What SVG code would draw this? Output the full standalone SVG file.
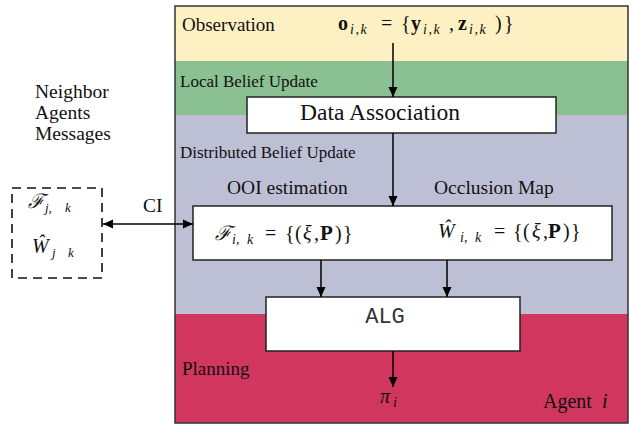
<svg xmlns="http://www.w3.org/2000/svg" width="631" height="424" viewBox="0 0 631 424">
<defs>
<marker id="ah" markerUnits="userSpaceOnUse" markerWidth="10" markerHeight="10" refX="10" refY="5" orient="auto">
<path d="M0,0.5 L10,5 L0,9.5 z" fill="#000"/>
</marker>
<marker id="as" markerUnits="userSpaceOnUse" markerWidth="10" markerHeight="10" refX="0" refY="5" orient="auto">
<path d="M10,0.5 L0,5 L10,9.5 z" fill="#000"/>
</marker>
</defs>
<rect width="631" height="424" fill="#fff"/>
<g id="agent" fill="#111">
<rect x="175" y="6" width="453" height="55" fill="#fdf0c2"/>
<rect x="175" y="61" width="453" height="54" fill="#8bc192"/>
<rect x="175" y="115" width="453" height="199" fill="#bdbfd5"/>
<rect x="175" y="314" width="453" height="109" fill="#d1365f"/>
<rect x="175" y="6" width="453" height="417" fill="none" stroke="#333" stroke-width="1.5"/>
<text font-family="Liberation Serif" x="182" y="31" font-size="19">Observation</text>
<text font-family="Liberation Serif" x="180" y="87" font-size="17">Local Belief Update</text>
<text font-family="Liberation Serif" x="180" y="158" font-size="17">Distributed Belief Update</text>
<text font-family="Liberation Serif" x="182" y="375" font-size="19">Planning</text>
<text font-family="Liberation Serif" x="543" y="408" font-size="20">Agent <tspan font-style="italic" x="602">i</tspan></text>
<text font-family="Liberation Serif" x="338" y="30" font-size="20"><tspan font-weight="bold">o</tspan><tspan font-style="italic" font-size="14" x="350" y="34" letter-spacing="1.5">i,k</tspan><tspan x="381" y="30">=</tspan><tspan x="401">{</tspan><tspan font-weight="bold" x="411">y</tspan><tspan font-style="italic" font-size="14" x="423" y="34" letter-spacing="1.5">i,k</tspan><tspan x="449" y="30">,</tspan><tspan font-weight="bold" x="458">z</tspan><tspan font-style="italic" font-size="14" x="469" y="34" letter-spacing="1.5">i,k</tspan><tspan x="495" y="30">)</tspan><tspan x="504">}</tspan></text>
</g>
<g id="neighbor" fill="#111">
<text font-family="Liberation Serif" x="35" y="98" font-size="19.5">Neighbor</text>
<text font-family="Liberation Serif" x="35" y="119" font-size="19.5">Agents</text>
<text font-family="Liberation Serif" x="35" y="140" font-size="19.5">Messages</text>
<rect x="12" y="188" width="90" height="90" fill="none" stroke="#111" stroke-width="1.6" stroke-dasharray="9 6"/>
<text font-family="Liberation Serif" font-style="italic" x="28" y="208" font-size="20">ℱ<tspan font-size="13" x="45" y="212">j,</tspan><tspan font-size="13" x="65">k</tspan></text>
<text font-family="Liberation Serif" font-style="italic" x="32" y="253" font-size="20">Ŵ<tspan font-size="13" x="52" y="257">j</tspan><tspan font-size="13" x="68">k</tspan></text>
</g>
<g id="data-association" fill="#111">
<rect x="247" y="97" width="309" height="36" fill="#fff" stroke="#222" stroke-width="1.5"/>
<text font-family="Liberation Serif" x="0" y="0" font-size="20" text-anchor="middle" transform="translate(380,120) scale(1.175)">Data Association</text>
</g>
<g id="estimation" fill="#111">
<text font-family="Liberation Serif" x="227" y="194" font-size="19.5">OOI estimation</text>
<text font-family="Liberation Serif" x="434" y="194" font-size="19.5">Occlusion Map</text>
<rect x="193" y="206" width="419" height="54" fill="#fff" stroke="#222" stroke-width="1.5"/>
<text font-family="Liberation Serif" x="215" y="240" font-size="20"><tspan font-style="italic">ℱ</tspan><tspan font-style="italic" font-size="14" x="232" y="244">i,</tspan><tspan font-style="italic" font-size="14" x="247">k</tspan><tspan x="265" y="240">=</tspan><tspan x="285">{</tspan><tspan x="295">(</tspan><tspan font-style="italic" x="303">ξ</tspan><tspan x="314">,</tspan><tspan font-weight="bold" font-size="21" x="320">P</tspan><tspan x="335">)</tspan><tspan x="343">}</tspan></text>
<text font-family="Liberation Serif" x="438" y="238" font-size="20"><tspan font-style="italic">Ŵ</tspan><tspan font-style="italic" font-size="14" x="460" y="242">i,</tspan><tspan font-style="italic" font-size="14" x="475">k</tspan><tspan x="494" y="238">=</tspan><tspan x="513">{</tspan><tspan x="523">(</tspan><tspan font-style="italic" x="532">ξ</tspan><tspan x="543">,</tspan><tspan font-weight="bold" font-size="21" x="548">P</tspan><tspan x="563">)</tspan><tspan x="571">}</tspan></text>
</g>
<g id="alg">
<rect x="266" y="297" width="254" height="54" fill="#fff" stroke="#222" stroke-width="1.5"/>
<text font-family="Liberation Mono" x="385" y="323" font-size="22" text-anchor="middle" fill="#333">ALG</text>
</g>
<g id="output" fill="#111">
<text font-family="Liberation Serif" font-style="italic" x="380" y="403" font-size="20">π<tspan font-size="14" x="393" y="407">i</tspan></text>
</g>
<g id="connectors" stroke="#000" stroke-width="1.5" fill="none">
<line x1="393" y1="43" x2="393" y2="97" marker-end="url(#ah)"/>
<line x1="393" y1="133" x2="393" y2="206" marker-end="url(#ah)"/>
<line x1="321" y1="260" x2="321" y2="297" marker-end="url(#ah)"/>
<line x1="447" y1="260" x2="447" y2="297" marker-end="url(#ah)"/>
<line x1="393" y1="351" x2="393" y2="387" marker-end="url(#ah)"/>
<line x1="103" y1="224" x2="193" y2="224" marker-start="url(#as)" marker-end="url(#ah)"/>
<text font-family="Liberation Serif" x="143" y="212" font-size="19.5" fill="#111" stroke="none">CI</text>
</g>
</svg>
